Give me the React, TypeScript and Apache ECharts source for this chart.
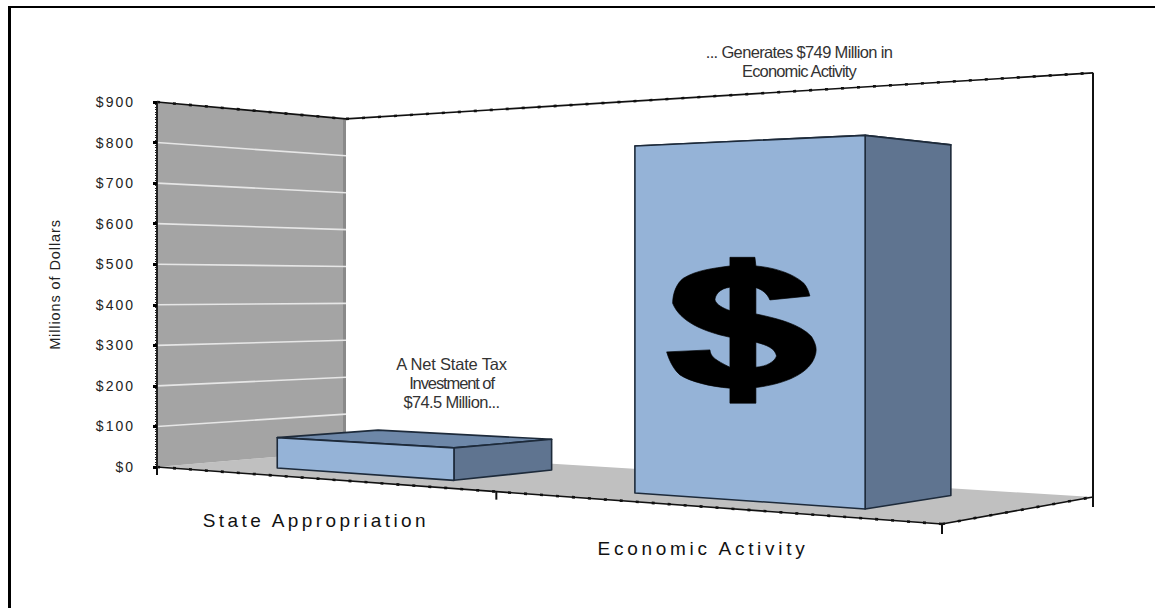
import React, { useEffect, useRef } from "react";
import * as echarts from "echarts";

const categories = ["State Appropriation", "Economic Activity"];
const values = [74.5, 749];
const valueMin = 0;
const valueMax = 900;
const valueStep = 100;
const valueTicks = [100, 200, 300, 400, 500, 600, 700, 800];
const axisTitle = "Millions of Dollars";
const noteLeft = ["A Net State Tax", "Investment of", "$74.5 Million..."];
const noteRight = ["... Generates $749 Million in", "Economic Activity"];

// Perspective of the floor: its four corners on screen
const F0 = [157, 467], F1 = [942, 524], B1 = [1093, 497], B0 = [346, 451];
const sx = F0[0] - F1[0] + B1[0] - B0[0], sy = F0[1] - F1[1] + B1[1] - B0[1];
const dx1 = F1[0] - B1[0], dx2 = B0[0] - B1[0], dy1 = F1[1] - B1[1], dy2 = B0[1] - B1[1];
const den = dx1 * dy2 - dx2 * dy1;
const G = (sx * dy2 - dx2 * sy) / den;
const H = (dx1 * sy - sx * dy1) / den;
const A = F1[0] - F0[0] + G * F1[0], B = B0[0] - F0[0] + H * B0[0];
const D = F1[1] - F0[1] + G * F1[1], E = B0[1] - F0[1] + H * B0[1];

const barHalf = 0.1315, depthFront = 0.235, depthBack = 0.775;

const project = (api: any, s: number, t: number, v: number) => {
  const w = G * s + H * t + 1;
  const zero = api.coord([0, 0])[1];
  const rise = zero - api.coord([0, v])[1];
  return [(A * s + B * t + F0[0]) / w, (D * s + E * t + F0[1]) / w - rise / w];
};

const poly = (points: number[][], fill: string, stroke = "none", lineWidth = 0) => ({
  type: "polygon", shape: { points }, style: { fill, stroke, lineWidth, lineJoin: "round" }, silent: true,
});
const seg = (p: number[], q: number[], stroke: string, lineWidth: number, lineDash?: number[]) => ({
  type: "line", shape: { x1: p[0], y1: p[1], x2: q[0], y2: q[1] }, style: { stroke, lineWidth, lineDash }, silent: true,
});

const renderRoom = (_p: any, api: any) => {
  const P = (s: number, t: number, v: number) => project(api, s, t, v);
  const down = (p: number[], n: number) => [p[0], p[1] + n];
  const serrate = [3, 13];
  const children: any[] = [
    poly([P(0, 0, 0), P(1, 0, 0), P(1, 1, 0), P(0, 1, 0)], "#c0c0c0"),
    poly([P(0, 0, 0), P(0, 1, 0), P(0, 1, valueMax), P(0, 0, valueMax)], "#a4a4a4"),
  ];
  children.push(seg([P(0, 1, 0)[0] - 1.5, P(0, 1, 0)[1]], [P(0, 1, valueMax)[0] - 1.5, P(0, 1, valueMax)[1]], "#8a8a8a", 3));
  valueTicks.forEach((v) => children.push(seg(P(0, 0, v), P(0, 1, v), "#e6e6e6", 1.6)));
  [[P(0, 0, valueMax), P(0, 1, valueMax)], [P(0, 1, valueMax), P(1, 1, valueMax)], [P(0, 0, 0), P(1, 0, 0)], [P(1, 0, 0), P(1, 1, 0)]].forEach(([p, q]) => {
    children.push(seg(p, q, "#111", 1.6));
    children.push(seg(p, q, "#111", 2.6, serrate));
  });
  children.push(seg(P(1, 1, valueMax), P(1, 1, 0), "#111", 2));
  children.push(seg(P(0, 0, 0), down(P(0, 0, 0), 8), "#111", 2));
  children.push(seg(P(0.5, 0, 0), down(P(0.5, 0, 0), 8), "#111", 2));
  children.push(seg(P(1, 0, 0), down(P(1, 0, 0), 10), "#111", 2));
  children.push(seg(P(1, 1, 0), down(P(1, 1, 0), 10), "#111", 2));
  return { type: "group", children };
};

const renderBar = (_p: any, api: any) => {
  const i = api.value(0);
  const v = api.value(1);
  const c = (i + 0.5) / categories.length;
  const s0 = c - barHalf, s1 = c + barHalf;
  const P = (s: number, t: number, h: number) => project(api, s, t, h);
  const edge = "#1d2a3a";
  const base = P(c, 0, 0);
  return {
    type: "group",
    children: [
      poly([P(s0, depthFront, v), P(s1, depthFront, v), P(s1, depthBack, v), P(s0, depthBack, v)], "#6d87a8", edge, 1.6),
      poly([P(s1, depthFront, 0), P(s1, depthBack, 0), P(s1, depthBack, v), P(s1, depthFront, v)], "#5f7490", edge, 1.6),
      poly([P(s0, depthFront, 0), P(s1, depthFront, 0), P(s1, depthFront, v), P(s0, depthFront, v)], "#95b3d7", edge, 1.6),
      {
        type: "text", silent: true,
        style: {
          text: categories[i], x: base[0], y: base[1] + 42,
          textAlign: "center", textVerticalAlign: "middle",
          font: '19px "Liberation Sans"', fill: "#111",
        },
      },
    ],
  };
};

const dollarPath =
  "M210 22 L285 22 L288 48 C340 52 400 70 432 100 C442 112 447 125 450 138 L330 150 C322 130 305 118 288 113 L288 192 " +
  "C350 205 420 222 455 260 C470 285 472 300 465 320 C450 365 390 400 288 413 L288 460 L210 460 L210 415 " +
  "C150 410 90 395 60 375 C45 362 30 340 20 306 L150 300 C152 320 165 330 210 352 L210 262 C130 245 60 215 38 160 " +
  "C38 130 50 100 70 85 C110 60 160 55 210 48 Z " +
  "M210 112 C180 115 165 135 165 150 C170 165 190 175 210 182 Z " +
  "M288 277 L288 352 C320 350 345 335 350 318 C345 295 320 285 288 277 Z";

const spacing: Record<string, number> = {
  "State Appropriation": 3.4,
  "Economic Activity#big": 3.7,
  "Millions of Dollars": 0.9,
  "A Net State Tax": -0.2,
  "Investment of": -1.1,
  "$74.5 Million...": -0.65,
  "... Generates $749 Million in": -0.65,
  "Economic Activity": -0.85,
};

const applySpacing = (root: HTMLElement) => {
  root.querySelectorAll("text").forEach((el) => {
    const t = el.textContent || "";
    const font = (el.getAttribute("style") || "") + " " + (el.getAttribute("font") || "");
    const size = parseFloat(font.match(/(\d+(?:\.\d+)?)px/)?.[1] || "0");
    let ls = spacing[t];
    if (t === "Economic Activity" && size >= 18) ls = spacing["Economic Activity#big"];
    if (/^\$\d+$/.test(t)) ls = 2;
    if (ls !== undefined) el.style.letterSpacing = ls + "px";
  });
};

export default function App() {
  const ref = useRef<HTMLDivElement>(null);
  useEffect(() => {
    document.body.style.margin = "0";
    document.body.style.background = "#fff";
    echarts.graphic.registerShape("dollarSign", echarts.graphic.extendPath(dollarPath, {}));
    const chart = echarts.init(ref.current!, undefined, { renderer: "svg" });
    chart.setOption({
      animation: false,
      backgroundColor: "#fff",
      grid: { left: 157, top: 102, width: 936, height: 365 },
      xAxis: { type: "category", data: categories, show: false },
      yAxis: {
        type: "value", min: valueMin, max: valueMax, interval: valueStep, z: 5,
        name: axisTitle, nameLocation: "middle", nameGap: 95, nameRotate: 90,
        nameTextStyle: { fontFamily: "Liberation Sans", fontSize: 14.5, color: "#222" },
        axisLine: { show: true, lineStyle: { color: "#222", width: 2 } },
        axisTick: { show: true, inside: false, length: 4, lineStyle: { color: "#000", width: 3 } },
        minorTick: { show: true, splitNumber: 16, length: 2, lineStyle: { color: "#222", width: 1 } },
        splitLine: { show: false },
        axisLabel: {
          margin: 22, formatter: (v: number) => "$" + v, padding: [5, 0, 0, 0],
          fontFamily: "Liberation Sans", fontSize: 14, color: "#222",
        },
      },
      series: [
        { type: "custom", z: 1, clip: false, silent: true, data: [[0, 0]], encode: { x: 0, y: 1 }, renderItem: renderRoom },
        { type: "custom", z: 3, clip: false, silent: true, data: values.map((v, i) => [i, v]), encode: { x: 0, y: 1 }, renderItem: renderBar },
      ],
      graphic: {
        z: 10,
        elements: [
          { type: "rect", silent: true, shape: { x: 8, y: 6, width: 3, height: 602 }, style: { fill: "#000" } },
          { type: "rect", silent: true, shape: { x: 8, y: 6, width: 1147, height: 2 }, style: { fill: "#000" } },
          {
            type: "text", silent: true, x: 451.5, y: 355,
            style: { text: noteLeft.join("\n"), textAlign: "center", font: '16.5px "Liberation Sans"', lineHeight: 18.7, fill: "#333" },
          },
          {
            type: "text", silent: true, x: 799, y: 42,
            style: { text: noteRight.join("\n"), textAlign: "center", font: '16.5px "Liberation Sans"', lineHeight: 19, fill: "#333" },
          },
          { type: "dollarSign", silent: true, z: 10, x: 660, y: 250, scaleX: 1 / 3, scaleY: 1 / 3, style: { fill: "#000", stroke: "#000", lineWidth: 2 } },
        ],
      },
    });
    const root = ref.current!;
    applySpacing(root);
    chart.on("finished", () => applySpacing(root));
    return () => chart.dispose();
  }, []);
  return <div ref={ref} style={{ position: "fixed", left: 0, top: 0, width: 1155, height: 608 }} />;
}
